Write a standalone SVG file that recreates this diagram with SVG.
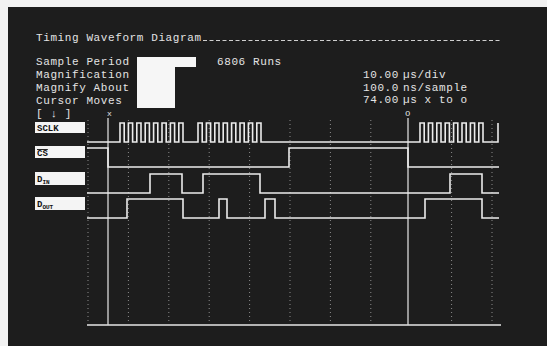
<svg xmlns="http://www.w3.org/2000/svg" width="547" height="346" viewBox="0 0 547 346">
<defs>
<style>
.t{font-family:"Liberation Mono","DejaVu Sans Mono",monospace;font-size:11px;letter-spacing:0.6px;fill:#e4e4e4}
.lb{fill:#f4f4f4}
.lt{font-family:"Liberation Mono","DejaVu Sans Mono",monospace;font-size:9px;fill:#111;font-weight:bold}
.w{fill:none;stroke:#ececec;stroke-width:1.6}
.g{stroke:#8c8c8c;stroke-width:1;stroke-dasharray:1 3}
.c{stroke:#d8d8d8;stroke-width:1.3}
</style>
</defs>
<rect x="0" y="0" width="547" height="346" fill="#f2f2f2"/>
<rect x="8" y="7" width="539" height="339" fill="#1d1d1d"/>

<g id="header">
<text class="t" x="36" y="41">Timing Waveform Diagram</text>
<line x1="203" y1="40.5" x2="500" y2="40.5" stroke="#cfcfcf" stroke-width="1" stroke-dasharray="4 2.5"/>
<text class="t" x="36" y="65">Sample Period</text>
<text class="t" x="36" y="78">Magnification</text>
<text class="t" x="36" y="91">Magnify About</text>
<text class="t" x="36" y="104">Cursor Moves</text>
<text class="t" x="36" y="116.5">[ ↓ ]</text>
<path d="M137,57 H196 V67 H175 V108 H137 Z" fill="#f6f6f6"/>
<text class="t" x="217" y="65">6806 Runs</text>
<text class="t" x="363" y="78">10.00</text>
<text class="t" x="403" y="78">µs/div</text>
<text class="t" x="363" y="90.5">100.0</text>
<text class="t" x="403" y="90.5">ns/sample</text>
<text class="t" x="363" y="103">74.00</text>
<text class="t" x="403" y="103">µs x to o</text>
</g>

<g id="grid">
<line class="g" x1="88" y1="120" x2="88" y2="324"/>
<line class="g" x1="128.4" y1="120" x2="128.4" y2="324"/>
<line class="g" x1="168.8" y1="120" x2="168.8" y2="324"/>
<line class="g" x1="209.2" y1="120" x2="209.2" y2="324"/>
<line class="g" x1="249.6" y1="120" x2="249.6" y2="324"/>
<line class="g" x1="290" y1="120" x2="290" y2="324"/>
<line class="g" x1="330.4" y1="120" x2="330.4" y2="324"/>
<line class="g" x1="370.8" y1="120" x2="370.8" y2="324"/>
<line class="g" x1="451.6" y1="120" x2="451.6" y2="324"/>
<line class="g" x1="492" y1="120" x2="492" y2="324"/>
<line x1="87" y1="325" x2="501" y2="325" stroke="#e6e6e6" stroke-width="1.5"/>
</g>

<g id="cursors">
<line class="c" x1="108" y1="118" x2="108" y2="325"/>
<text class="t" x="107" y="116" style="font-size:8px;letter-spacing:0">x</text>
<line class="c" x1="408" y1="118" x2="408" y2="325"/>
<text class="t" x="405" y="116" style="font-size:9px;letter-spacing:0">o</text>
</g>

<g id="sclk">
<rect class="lb" x="35" y="122" width="50" height="11"/>
<text class="lt" x="37" y="131">SCLK</text>
</g>
<g id="cs">
<rect class="lb" x="35" y="146" width="50" height="12"/>
<text class="lt" x="37" y="156" text-decoration="overline">CS</text>
</g>
<g id="din">
<rect class="lb" x="35" y="172" width="50" height="13"/>
<text class="lt" x="37" y="182">D<tspan font-size="6" dy="2">IN</tspan></text>
</g>
<g id="dout">
<rect class="lb" x="35" y="197" width="50" height="13"/>
<text class="lt" x="37" y="207">D<tspan font-size="6" dy="2">OUT</tspan></text>
</g>

<g id="waveforms">
<path class="w" d="M87,142 H120 V123 H124.2 V142 H128.4 V123 H132.6 V142 H136.8 V123 H141 V142 H145.2 V123 H149.4 V142 H153.6 V123 H157.8 V142 H162 V123 H166.2 V142 H170.4 V123 H174.6 V142 H178.8 V123 H183 V142 H198 V123 H202.2 V142 H206.4 V123 H210.6 V142 H214.8 V123 H219 V142 H223.2 V123 H227.4 V142 H231.6 V123 H235.8 V142 H240 V123 H244.2 V142 H248.4 V123 H252.6 V142 H256.8 V123 H261 V142 H420 V123 H424.2 V142 H428.4 V123 H432.6 V142 H436.8 V123 H441 V142 H445.2 V123 H449.4 V142 H453.6 V123 H457.8 V142 H462 V123 H466.2 V142 H470.4 V123 H474.6 V142 H478.8 V123 H483 V142 H498 V123"/>
<path class="w" d="M87,148 H108 V167 H289 V148 H408 V167 H499"/>
<path class="w" d="M87,193 H150 V174 H182 V193 H203 V174 H260 V193 H450 V174 H482 V193 H499"/>
<path class="w" d="M87,218 H127 V199 H183 V218 H219 V199 H227 V218 H265 V199 H275 V218 H425 V199 H482 V218 H499"/>
</g>
</svg>
